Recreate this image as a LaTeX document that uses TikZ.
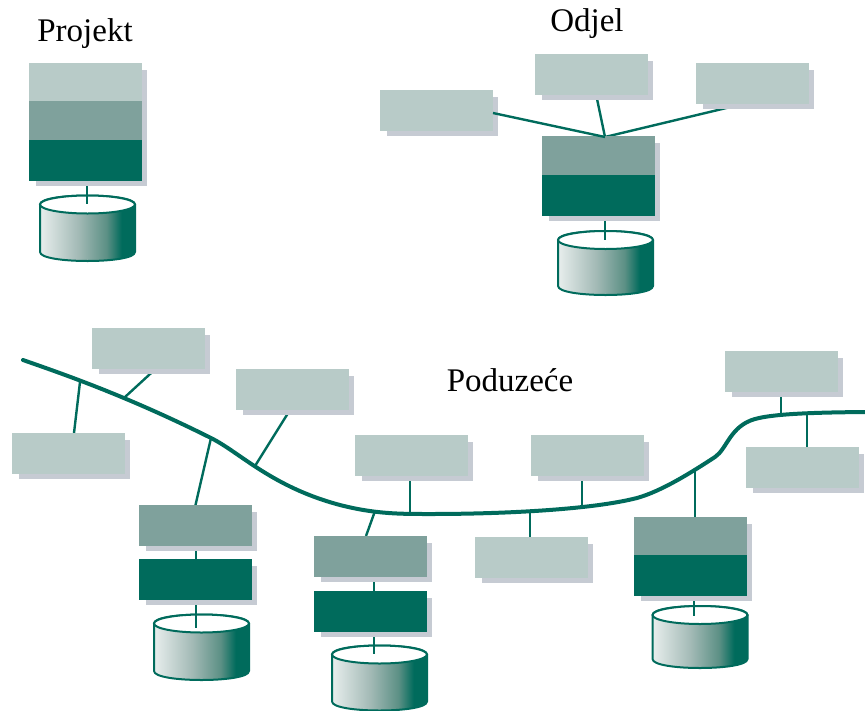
\documentclass[tikz,border=0pt]{standalone}
\usepackage{fontspec}
\setmainfont{Liberation Serif}
\definecolor{lightc}{HTML}{B8CBC8}
\definecolor{midc}{HTML}{7FA19C}
\definecolor{darkc}{HTML}{006B5C}
\definecolor{shadowc}{HTML}{C6CBD3}
\definecolor{cylleft}{HTML}{E8EEED}
\definecolor{cylmid}{HTML}{A3BAB6}
\definecolor{cylmidb}{HTML}{5C9085}
\pgfdeclarehorizontalshading{cylshade}{100bp}{color(0bp)=(cylleft);color(25bp)=(cylleft);color(45bp)=(cylmid);color(60bp)=(cylmidb);color(68bp)=(darkc);color(100bp)=(darkc)}
\tikzset{
  x=1pt,y=-1pt,
  boxbase/.style={anchor=north west,inner sep=0pt,outer sep=0pt,minimum width=113pt},
  lightbox/.style={boxbase,fill=lightc},
  midbox/.style={boxbase,fill=midc},
  darkbox/.style={boxbase,fill=darkc},
  conn/.style={draw=darkc,line width=2.4pt},
  bus/.style={draw=darkc,line width=4pt,line cap=round},
  cylbody/.style={draw=darkc,line width=2pt,shading=cylshade,line join=round},
  cyltop/.style={draw=darkc,line width=2pt,fill=white},
  lab/.style={font=\fontsize{33pt}{36pt}\selectfont,text=black,inner sep=0pt}
}
% centre x, top-ellipse centre y, bottom-side y
\newcommand{\mycyl}[3]{%
  \pgfmathsetmacro{\cyll}{#1-47.5}\pgfmathsetmacro{\cylr}{#1+47.5}%
  \pgfmathsetmacro{\cylb}{#3+12}\pgfmathsetmacro{\cylt}{#2-12}%
  \path[cylbody] (\cyll,#2) -- (\cyll,#3) .. controls (\cyll,\cylb) and (\cylr,\cylb) .. (\cylr,#3) -- (\cylr,#2) .. controls (\cylr,\cylt) and (\cyll,\cylt) .. cycle;
  \path[cyltop] (#1,#2) ellipse [x radius=47.5,y radius=9];
}
\begin{document}
\begin{tikzpicture}
\useasboundingbox (0,0) rectangle (865,710);
\pgfdeclarelayer{under}\pgfdeclarelayer{shad}\pgfsetlayers{under,shad,main}

\node[lab] (tp) at (85,34) {Projekt};
\node[lab] (to) at (587,24) {Odjel};
\node[lab] (tz) at (510,380) {Poduzeće};

% Projekt
\node[lightbox,minimum height=38pt] (p1) at (29,63) {};
\node[midbox,minimum height=39pt] (p2) at (29,101) {};
\node[darkbox,minimum height=41pt] (p3) at (29,140) {};

% Odjel
\node[lightbox,minimum height=41pt] (o1) at (380,90) {};
\node[lightbox,minimum height=41pt] (o2) at (535,54) {};
\node[lightbox,minimum height=41pt] (o3) at (696,63) {};
\node[midbox,minimum height=39pt] (o4) at (542,136) {};
\node[darkbox,minimum height=41pt] (o5) at (542,175) {};

% Poduzece
\node[lightbox,minimum height=41pt] (a1) at (92,328) {};
\node[lightbox,minimum height=41pt] (a2) at (236,369) {};
\node[lightbox,minimum height=41pt] (a3) at (12,433) {};
\node[lightbox,minimum height=41pt] (a4) at (355,435) {};
\node[lightbox,minimum height=41pt] (a5) at (531,435) {};
\node[lightbox,minimum height=41pt] (a6) at (475,537) {};
\node[lightbox,minimum height=41pt] (a7) at (725,351) {};
\node[lightbox,minimum height=41pt] (a8) at (746,447) {};
\node[midbox,minimum height=41pt] (s1m) at (139,505) {};
\node[darkbox,minimum height=41pt] (s1d) at (139,559) {};
\node[midbox,minimum height=41pt] (s2m) at (314,536) {};
\node[darkbox,minimum height=41pt] (s2d) at (314,591) {};
\node[midbox,minimum height=38pt] (s3m) at (634,517) {};
\node[darkbox,minimum height=41pt] (s3d) at (634,555) {};

\begin{pgfonlayer}{shad}
\foreach \n/\m in {p1/p3,o1/o1,o2/o2,o3/o3,o4/o5,a1/a1,a2/a2,a3/a3,a4/a4,a5/a5,a6/a6,a7/a7,a8/a8,s1m/s1m,s1d/s1d,s2m/s2m,s2d/s2d,s3m/s3d}
  \fill[shadowc] ([shift={(7,7)}]\n.north west) rectangle ([shift={(5,5)}]\m.south east);
\end{pgfonlayer}

\begin{pgfonlayer}{under}
\mycyl{87.5}{204.5}{252}
\mycyl{605.5}{240}{286}
\mycyl{201.5}{623.5}{671}
\mycyl{379.5}{654.5}{701.5}
\mycyl{700}{615}{659}

% connector free ends inside the cylinder tops
\coordinate (cp) at (87,204);
\coordinate (co) at (605,240);
\coordinate (c1) at (196,628);
\coordinate (c2) at (374,654);
\coordinate (c3) at (694,616);

\coordinate (apex) at (605,137);
\draw[conn] (p3.south -| cp) -- (cp);
\draw[conn] (o5.south -| co) -- (co);
\draw[conn] ([xshift=4.7pt]o2.south) -- (apex);
\draw[conn] ([xshift=-9.5pt]o3.south) -- (apex);

% bus tap points
\coordinate (b1) at (80,382);
\coordinate (b2) at (125,397);
\coordinate (b3) at (211,438);
\coordinate (b4) at (255,466);
\coordinate (b5) at (375,511);
\coordinate (b6) at (410,513);
\coordinate (b7) at (530,512);
\coordinate (b8) at (582,508);
\coordinate (b9) at (695,470);
\coordinate (b10) at (781,415);
\coordinate (b11) at (807,413);

\draw[conn] ([xshift=5.5pt]a3.north) -- (b1);
\draw[conn] ([xshift=7pt]a1.south) -- (b2);
\draw[conn] ([xshift=-2.5pt]a2.south) -- (b4);
\draw[conn] (s1m.north) -- (b3);
\draw[conn] ([xshift=-4.5pt]s2m.north) -- (b5);
\draw[conn] (a4.south -| b6) -- (b6);
\draw[conn] (a5.south -| b8) -- (b8);
\draw[conn] (a6.north -| b7) -- (b7);
\draw[conn] (s3m.north -| b9) -- (b9);
\draw[conn] (a7.south -| b10) -- (b10);
\draw[conn] (a8.north -| b11) -- (b11);
\draw[conn] (s1m.south -| c1) -- (s1d.north -| c1);
\draw[conn] (s1d.south -| c1) -- (c1);
\draw[conn] (s2m.south -| c2) -- (s2d.north -| c2);
\draw[conn] (s2d.south -| c2) -- (c2);
\draw[conn] (s3d.south -| c3) -- (c3);

\draw[bus] (23,360) .. controls (60,373) and (125,395) .. (b3)
  .. controls (240,452.5) and (272,487) .. (340,505)
  .. controls (375,514) and (400,514) .. (430,514)
  .. controls (500,514) and (590,510) .. (637,498)
  .. controls (662,491) and (692,472) .. (715,457)
  .. controls (727,449) and (730,426) .. (755,419)
  .. controls (773,414) and (810,412.5) .. (865,412);
\end{pgfonlayer}

% this one runs over its box's shadow
\draw[conn] ([yshift=-2.5pt]o1.east) -- (apex);
\end{tikzpicture}
\end{document}
